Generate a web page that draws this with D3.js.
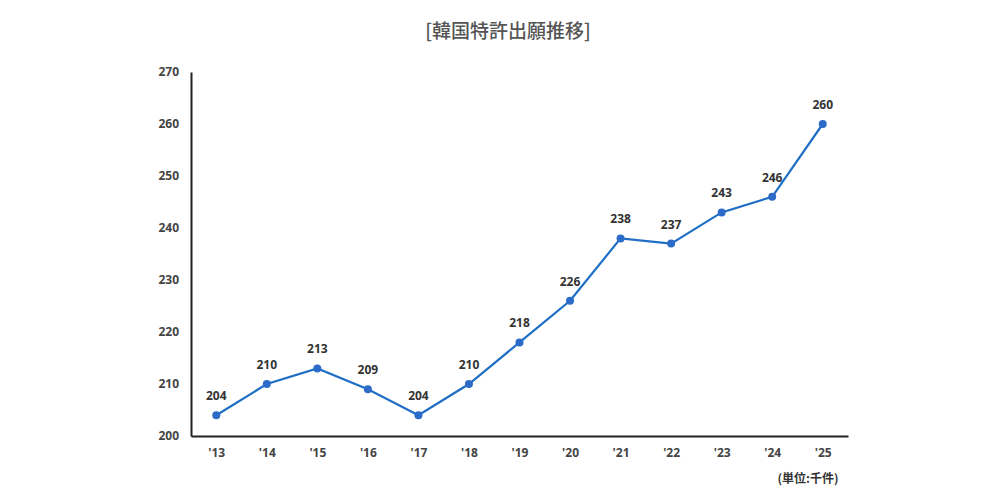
<!DOCTYPE html>
<html>
<head>
<meta charset="utf-8">
<script src="https://cdn.jsdelivr.net/npm/d3@7"></script>
<style>
  body { margin: 0; background: #fff; }
</style>
</head>
<body>
<figure id="chart" style="margin:0"></figure>
<script>
const years = ["'13", "'14", "'15", "'16", "'17", "'18", "'19", "'20", "'21", "'22", "'23", "'24", "'25"];
const filings = [204, 210, 213, 209, 204, 210, 218, 226, 238, 237, 243, 246, 260];
const yTicks = [200, 210, 220, 230, 240, 250, 260, 270];

const width = 1000, height = 504;
const marginLeft = 191, marginRight = 152, marginTop = 72, marginBottom = 68;
const cjk = "'Noto Sans CJK JP', 'Noto Sans', sans-serif";
const latin = "'Open Sans', 'Noto Sans', sans-serif";

const svg = d3.select("figure#chart")
  .append("svg")
    .attr("width", width)
    .attr("height", height)
    .attr("viewBox", [0, 0, width, height]);

// scales
const x = d3.scalePoint()
    .domain(years)
    .range([marginLeft, width - marginRight])
    .padding(0.5);

const y = d3.scaleLinear()
    .domain([200, 270])
    .range([height - marginBottom, marginTop]);

// title
svg.append("text")
    .attr("x", 508)
    .attr("y", 38)
    .attr("text-anchor", "middle")
    .style("font-family", cjk)
    .attr("font-size", 19)
    .attr("font-weight", 500)
    .attr("fill", "#555")
    .text("[韓国特許出願推移]");

// axes
svg.append("g")
    .attr("transform", `translate(${marginLeft},0)`)
    .call(d3.axisLeft(y).tickValues(yTicks).tickSize(0).tickPadding(12))
    .call(g => g.select(".domain").attr("stroke", "#222").attr("stroke-width", 2))
    .call(g => g.selectAll("text")
      .style("font-family", latin)
      .attr("font-size", 12).attr("font-weight", "bold").attr("fill", "#444"));

svg.append("g")
    .attr("transform", `translate(0,${height - marginBottom})`)
    .call(d3.axisBottom(x).tickSize(0).tickPadding(12).tickSizeOuter(0))
    .call(g => g.select(".domain").attr("stroke", "#222").attr("stroke-width", 2))
    .call(g => g.selectAll("text")
      .style("font-family", latin)
      .attr("font-size", 12).attr("font-weight", "bold").attr("fill", "#444"));

// line
const line = d3.line()
    .x((d, i) => x(years[i]))
    .y(d => y(d));

svg.append("path")
    .datum(filings)
    .attr("fill", "none")
    .attr("stroke", "#1f6ec6")
    .attr("stroke-width", 2.2)
    .attr("d", line);

svg.append("g")
    .attr("fill", "#2c6cc8")
  .selectAll()
  .data(filings)
  .join("circle")
    .attr("cx", (d, i) => x(years[i]))
    .attr("cy", d => y(d))
    .attr("r", 4);

// value labels
svg.append("g")
    .attr("text-anchor", "middle")
    .attr("font-size", 12)
    .attr("font-weight", "bold")
    .attr("fill", "#333")
    .style("font-family", latin)
  .selectAll()
  .data(filings)
  .join("text")
    .attr("x", (d, i) => x(years[i]))
    .attr("y", d => y(d) - 15)
    .text(d => d);

// unit note
svg.append("text")
    .attr("x", 808)
    .attr("y", 483)
    .attr("text-anchor", "middle")
    .style("font-family", cjk)
    .attr("font-size", 12)
    .attr("font-weight", "bold")
    .attr("fill", "#333")
    .text("(単位:千件)");
</script>
</body>
</html>
